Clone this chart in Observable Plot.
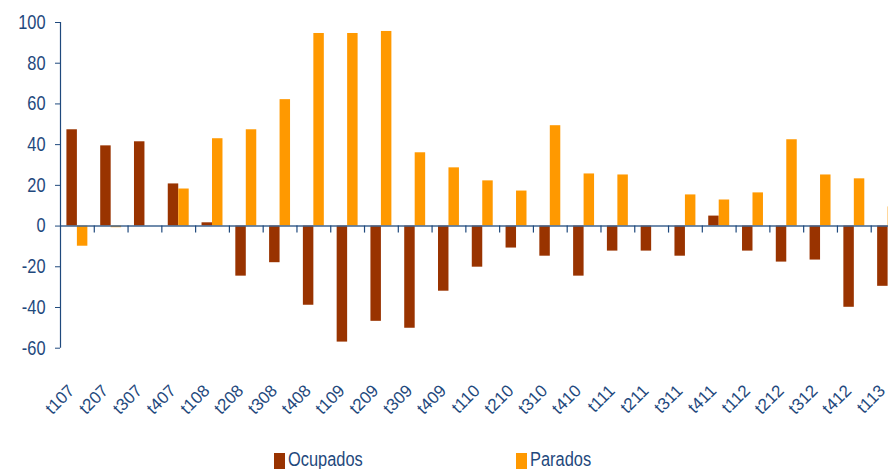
<!DOCTYPE html>
<html><head><meta charset="utf-8">
<script src="https://cdn.jsdelivr.net/npm/d3@7"></script>
<script src="https://cdn.jsdelivr.net/npm/@observablehq/plot@0.6"></script>
<style>
html,body{margin:0;padding:0;overflow:hidden;background:#fff;}
body{font-family:"Liberation Sans",Arial,sans-serif;}
#chart svg{overflow:hidden;}
#legend{position:relative;width:888px;height:24px;}
.key{position:absolute;width:11px;height:16px;top:8px;}
.lbl{position:absolute;top:4px;font-size:20px;line-height:20px;color:#1F497D;white-space:nowrap;transform:scaleX(0.82);transform-origin:0 0;}
</style></head><body>
<div id="chart"></div>
<div id="legend"></div>
<script>
const periods = ["t107","t207","t307","t407","t108","t208","t308","t408","t109","t209","t309","t409",
  "t110","t210","t310","t410","t111","t211","t311","t411","t112","t212","t312","t412","t113"];
const ocupados = [47.3,39.4,41.4,20.7,1.6,-24.6,-18,-38.9,-57,-46.8,-50.2,-32,
  -20.2,-10.8,-14.8,-24.6,-12.3,-12.3,-14.8,4.9,-12.3,-17.7,-16.7,-39.9,-29.6];
const parados = [-9.9,-0.8,0,18.2,42.9,47.3,62.1,94.6,94.6,95.6,36,28.6,
  22.2,17.2,49.3,25.6,25.1,0,15.3,12.8,16.3,42.4,25.1,23.2,9.4];
const seriesNames = ["Ocupados","Parados"];
const seriesColors = ["#993300","#FF9900"];
const yTicks = [-60,-40,-20,0,20,40,60,80,100];

const FONT = '"Liberation Sans",Arial,sans-serif';
const NARROW = 0.82;
const ink = "#1F497D";
const rows = periods.map((p,i)=>({period:p, ocupados:ocupados[i], parados:parados[i]}));
const step = 33.78;
const xStart = 60, xEnd = xStart + periods.length*step;
const pInner = 0.38;
const half = step*(1-pInner)/2;

const chart = Plot.plot({
  width: 888, height: 445,
  marginTop: 22, marginBottom: 97.3, marginLeft: 60, marginRight: 0,
  style: {overflow:"hidden", fontFamily: FONT, background:"white", color: ink},
  x: {domain: periods, range:[xStart, xEnd], paddingInner: pInner, paddingOuter: pInner/2, round: false, axis: null},
  y: {domain: [-60,100], axis: null},
  marks: [
    Plot.barY(rows, {x:"period", y:"ocupados", fill: seriesColors[0], insetRight: half}),
    Plot.barY(rows, {x:"period", y:"parados", fill: seriesColors[1], insetLeft: half}),
    Plot.ruleY([0], {stroke:"#3f6590", strokeWidth:1.5}),
    Plot.ruleX(periods.slice(1), {x: d=>d, y1: 0, y2: 0, dx: -step/2, insetBottom: -7, stroke: ink, strokeWidth: 1.2}),
    Plot.ruleX([periods[0]], {x: d=>d, y1: -60, y2: 100, dx: -step/2, stroke: ink, strokeWidth: 1.2}),
    Plot.axisY({ticks: yTicks, tickSize: 5, tickPadding: 10, fontSize: 20, stroke: ink, fill: ink,
      tickFormat: d => String(d), label: null, fontFamily: FONT}),
    Plot.text(periods, {x: d=>d, frameAnchor:"bottom", dy: 35, dx: -10.4, rotate: -45,
      textAnchor:"end", lineAnchor:"top", fontSize: 17, fill: ink, fontFamily: FONT})
  ]
});
// condense horizontal texts (Arial Narrow look) around each text's anchor
chart.querySelectorAll("text").forEach(el => {
  const tr = el.getAttribute("transform") || "";
  if (tr.includes("rotate")) return;
  const x = parseFloat(el.getAttribute("x")) || 0;
  el.setAttribute("transform", `${tr} translate(${x},0) scale(${NARROW},1) translate(${-x},0)`.trim());
});
document.getElementById("chart").appendChild(chart);

const legend = document.getElementById("legend");
const keyX = [274, 516];
seriesNames.forEach((name,i)=>{
  const k = document.createElement("div");
  k.className = "key"; k.style.left = keyX[i]+"px"; k.style.background = seriesColors[i];
  legend.appendChild(k);
  const t = document.createElement("div");
  t.className = "lbl"; t.style.left = (keyX[i]+14)+"px"; t.textContent = name;
  legend.appendChild(t);
});
</script>
</body></html>
